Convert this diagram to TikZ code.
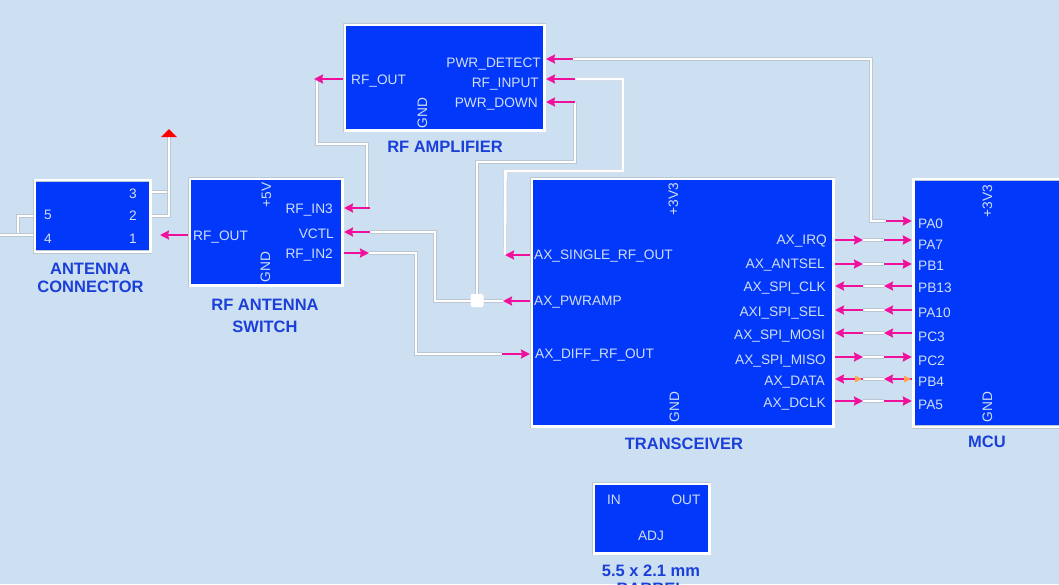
\documentclass[tikz,border=0pt]{standalone}
\usepackage{fontspec}
\setmainfont{Liberation Sans}
\usetikzlibrary{arrows.meta}
\definecolor{sheetbg}{HTML}{CCE0F2}
\definecolor{blockblue}{HTML}{0238FA}
\definecolor{titleblue}{HTML}{1B3FD9}
\definecolor{pintext}{HTML}{D0DEF6}
\definecolor{pinpink}{HTML}{F0109C}
\definecolor{wireedge}{HTML}{BCC7D4}
\tikzset{
  block/.style={draw=wireedge,double=white,double distance=2.4pt,line width=0.5pt,fill=blockblue,outer sep=1.7pt,inner sep=0pt},
  wire/.style={draw=wireedge,double=white,double distance=2.6pt,line width=0.4pt},
  pinout/.style={draw=pinpink,line width=2.8pt,-{Stealth[length=9pt,width=9pt,inset=1pt]}},
  pinlabel/.style={text=pintext,font=\fontsize{13.7}{15}\selectfont,inner sep=0pt,text height=10pt,text depth=0pt},
  title/.style={text=titleblue,font=\fontsize{16.5}{18}\selectfont\bfseries,inner sep=0pt,text height=12pt,text depth=0pt},
}
\begin{document}
\begin{tikzpicture}[x=1pt,y=-1pt]
  \useasboundingbox (0,0) rectangle (1059,584);
  \clip (0,0) rectangle (1059,584);
  \fill[sheetbg] (0,0) rectangle (1059,584);

  % wires
  \coordinate (vcc) at (169,137);
  \coordinate (con3) at (152,192);
  \coordinate (con2) at (152,216);
  \coordinate (con5) at (33,216);
  \coordinate (con4) at (33,235);
  \coordinate (conend) at (0,235);
  \draw[wire] (con3) -- (169,192);
  \draw[wire] (con2) -- (169,216) -- (vcc);
  \draw[wire] (con5) -- (18,216) -- (18,235);
  \draw[wire] (con4) -- (conend);

  \coordinate (ampout) at (317,79);
  \coordinate (swin3) at (367,208);
  \coordinate (swctl) at (370,232);
  \coordinate (swin2) at (369,253);
  \coordinate (ampdet) at (573,59);
  \coordinate (ampin) at (575,79);
  \coordinate (ampdown) at (575,102);
  \coordinate (trsingle) at (505,255);
  \coordinate (trramp) at (503,301);
  \coordinate (trdiff) at (502,354);
  \coordinate (mcupa) at (886,221);
  \draw[wire] (ampout) -- (317,144) -- (367,144) -- (swin3);
  \draw[wire] (ampdet) -- (871,59) -- (871,221) -- (mcupa);
  \draw[wire] (ampin) -- (623,79) -- (623,171) -- (505.5,171) -- (trsingle);
  \draw[wire] (ampdown) -- (575,162) -- (477,162) -- (477,301);
  \draw[wire] (swctl) -- (435,232) -- (435,301) -- (trramp);
  \draw[wire] (swin2) -- (416,253) -- (416,354) -- (trdiff);

  % blocks
  \node[block,minimum width=115.6,minimum height=71.6] (connector) at (92.5,216) {};
  \node[block,minimum width=152.6,minimum height=106.6] (rfswitch) at (266,232) {};
  \node[block,minimum width=199.6,minimum height=105.6] (amplifier) at (444.5,77.5) {};
  \node[block,minimum width=301.6,minimum height=247.6] (transceiver) at (682.5,302.5) {};
  \node[block,minimum width=200,minimum height=247.6] (mcu) at (1013.5,303) {};
  \node[block,minimum width=115.6,minimum height=69.6] (barrel) at (651.5,518.5) {};

  % titles
  \node[title] (antennatitle) at (90.5,268) {ANTENNA};
  \node[title] (connectortitle) at (90.5,286) {CONNECTOR};
  \node[title] (switchtitle) at (265,304) {RF ANTENNA};
  \node[title] (switchtitleb) at (265,326) {SWITCH};
  \node[title] (amplifiertitle) at (445,146) {RF AMPLIFIER};
  \node[title] (transceivertitle) at (684,443) {TRANSCEIVER};
  \node[title] (mcutitle) at (987,441) {MCU};
  \node[title] (barreltitle) at (651,570) {5.5 x 2.1 mm};
  \node[title] (barreltitleb) at (651,588) {BARREL};

  % labels
  \foreach \n/\tx/\x/\y in {con3/3/133/193,con2/2/133/215,con1/1/133/238,con5/5/48/214,con4/4/48/238,
      in/IN/614/499,out/OUT/686/499,adj/ADJ/651/535}
    \node[pinlabel] (lbl\n) at (\x,\y) {\tx};
  \foreach \n/\tx/\x/\y in {swout/RF\_OUT/193/235,ampout/RF\_OUT/351/79,
      trsingle/AX\_SINGLE\_RF\_OUT/534/254,trramp/AX\_PWRAMP/534/300,trdiff/AX\_DIFF\_RF\_OUT/535/353,
      pa0/PA0/918/223,pa7/PA7/918/244,pb1/PB1/918/265,pb13/PB13/918/287,pa10/PA10/918/312,
      pc3/PC3/918/336,pc2/PC2/918/360,pb4/PB4/918/381,pa5/PA5/918/404}
    \node[pinlabel,anchor=west] (lbl\n) at (\x,\y) {\tx};
  \foreach \n/\tx/\x/\y in {swin3/RF\_IN3/333/208,swctl/VCTL/334/233,swin2/RF\_IN2/333/253,
      ampdet/PWR\_DETECT/541/62,ampin/RF\_INPUT/539/82,ampdown/PWR\_DOWN/538/102,
      irq/AX\_IRQ/827/239.5,antsel/AX\_ANTSEL/825/263,clk/AX\_SPI\_CLK/826/286,
      sel/AXI\_SPI\_SEL/825/311,mosi/AX\_SPI\_MOSI/825/334,miso/AX\_SPI\_MISO/826/359,
      data/AX\_DATA/825/380,dclk/AX\_DCLK/826/402}
    \node[pinlabel,anchor=east] (lbl\n) at (\x,\y) {\tx};
  \foreach \n/\tx/\x/\y in {sw5v/+5V/266/195,swgnd/GND/265/267,ampgnd/GND/422/113,
      tr3v/+3V3/673/199,trgnd/GND/674/407,mcu3v/+3V3/987/201,mcugnd/GND/987/407}
    \node[pinlabel,rotate=90] (lbl\n) at (\x,\y) {\tx};

  % power flag
  \fill[red] (161,137) -- (169,129) -- (177,137) -- cycle;

  % junction
  \node[fill=white,rounded corners=2pt,minimum size=13,inner sep=0pt] (junction) at (477,300.5) {};

  % pins
  \draw[pinout] (rfswitch.west |- con4) -- (160,235);
  \draw[pinout] (amplifier.west |- ampout) -- (314,79);
  \draw[pinout] (swin3) ++(3,0) -- (rfswitch.east |- swin3);
  \draw[pinout] (swctl) -- (rfswitch.east |- swctl);
  \draw[pinout] (rfswitch.east |- swin2) -- (swin2);
  \draw[pinout] (ampdet) -- (amplifier.east |- ampdet);
  \draw[pinout] (ampin) -- (amplifier.east |- ampin);
  \draw[pinout] (ampdown) -- (amplifier.east |- ampdown);
  \draw[pinout] (transceiver.west |- trsingle) -- (trsingle);
  \draw[pinout] (transceiver.west |- trramp) -- (trramp);
  \draw[pinout] (trdiff) -- (transceiver.west |- trdiff);
  \draw[pinout] (mcupa) -- (mcu.west |- mcupa);

  % transceiver to mcu
  \foreach \n/\y in {irq/240,antsel/264,clk/286,sel/310,mosi/333,miso/357,data/379,dclk/401} {
    \coordinate (tr\n) at (863,\y);
    \coordinate (mc\n) at (884,\y);
    \draw[wire] (tr\n) -- (mc\n);
  }
  \foreach \n in {irq,antsel,miso,dclk} {
    \draw[pinout] (transceiver.east |- tr\n) -- (tr\n);
    \draw[pinout] (mc\n) -- (mcu.west |- mc\n);
  }
  \foreach \n in {clk,sel,mosi,data} {
    \draw[pinout] (tr\n) -- (transceiver.east |- tr\n);
    \draw[pinout] (mcu.west |- mc\n) -- (mc\n);
  }
  \foreach \n in {data} {
    \fill[orange!70] (855,375.5) -- (862,379) -- (855,382.5) -- cycle;
    \fill[orange!70] (904,375.5) -- (911,379) -- (904,382.5) -- cycle;
  }
\end{tikzpicture}
\end{document}
